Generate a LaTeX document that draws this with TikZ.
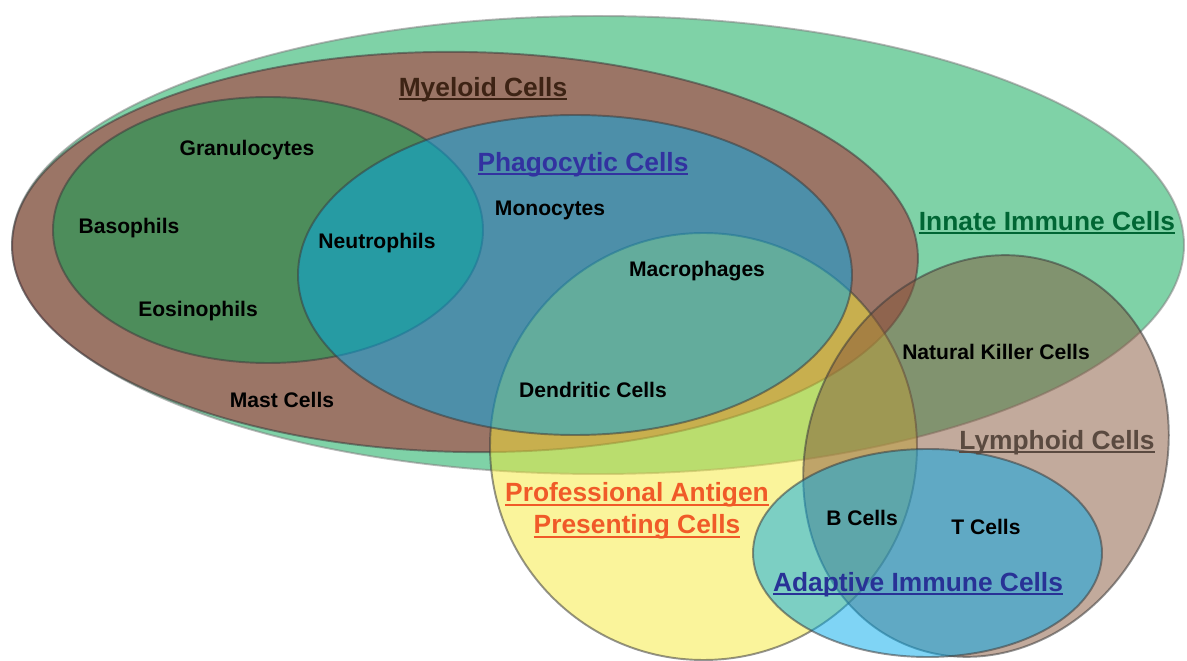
\documentclass[tikz,border=0pt]{standalone}
\usepackage{fontspec}
\setmainfont{Liberation Sans}
\usepackage{xcolor}

\definecolor{innategreen}{RGB}{0,166,80}
\definecolor{myeloidred}{RGB}{183,25,38}
\definecolor{apcyellow}{RGB}{245,233,55}
\definecolor{phagoblue}{RGB}{0,170,236}
\definecolor{lymphbrown}{RGB}{133,85,57}
\definecolor{edgegray}{RGB}{60,60,60}
\definecolor{myeloidtext}{RGB}{61,35,20}
\definecolor{phagotext}{RGB}{50,50,160}
\definecolor{innatetext}{RGB}{0,102,52}
\definecolor{apctext}{RGB}{240,90,40}
\definecolor{lymphtext}{RGB}{90,74,64}
\definecolor{adaptivetext}{RGB}{40,50,150}

\newcommand{\catul}[1]{\setbox0\hbox{#1}\rlap{\rule[-0.15em]{\wd0}{0.075em}}\box0}

\begin{document}
\begin{tikzpicture}[x=0.02cm,y=-0.02cm,
    set/.style={draw=edgegray,draw opacity=0.55,line width=1.1pt,fill opacity=0.5},
    cell/.style={font=\bfseries\fontsize{12}{14}\selectfont,text=black,inner sep=0pt,anchor=base},
    category/.style={font=\bfseries\fontsize{15}{18}\selectfont,inner sep=0pt,align=center,anchor=base}]
\useasboundingbox (0,0) rectangle (1187,661);

\draw[set,fill=innategreen,draw=gray] (598,245) ellipse [x radius=586,y radius=229];
\draw[set,fill=myeloidred,rotate around={-1:(465,252)}] (465,252) ellipse [x radius=453,y radius=200];
\draw[set,fill=innategreen] (268,230) ellipse [x radius=215,y radius=133];
\draw[set,fill=apcyellow] (703.5,446.5) circle [radius=213.5];
\draw[set,fill=phagoblue] (575,275) ellipse [x radius=277,y radius=160];
\draw[set,fill=lymphbrown,rotate around={-24:(986,456)}] (986,456) ellipse [x radius=178,y radius=205];
\draw[set,fill=phagoblue] (927.5,553) ellipse [x radius=174.5,y radius=104];

\node[category,text=myeloidtext] (myeloid) at (483,96.4) {\catul{Myeloid Cells}};
\node[category,text=phagotext] (phagocytic) at (583,171.4) {\catul{Phagocytic Cells}};
\node[category,text=innatetext] (innate) at (1047,230.4) {\catul{Innate Immune Cells}};
\node[category,text=lymphtext] (lymphoid) at (1057,449.4) {\catul{Lymphoid Cells}};
\node[category,text=apctext,anchor=center] (apc) at (637,511) {\catul{Professional Antigen}\\\catul{Presenting Cells}};
\node[category,text=adaptivetext] (adaptive) at (918,591.4) {\catul{Adaptive Immune Cells}};

\node[cell] (granulocytes) at (247,155.6) {Granulocytes};
\node[cell] (basophils) at (129,233.6) {Basophils};
\node[cell] (neutrophils) at (377,248.6) {Neutrophils};
\node[cell] (eosinophils) at (198,316.6) {Eosinophils};
\node[cell] (mast) at (282,407.6) {Mast Cells};
\node[cell] (monocytes) at (550,215.6) {Monocytes};
\node[cell] (macrophages) at (697,276.6) {Macrophages};
\node[cell] (dendritic) at (593,397.6) {Dendritic Cells};
\node[cell] (nk) at (996,359.6) {Natural Killer Cells};
\node[cell] (bcells) at (862,525.6) {B Cells};
\node[cell] (tcells) at (986,534.6) {T Cells};
\end{tikzpicture}
\end{document}
